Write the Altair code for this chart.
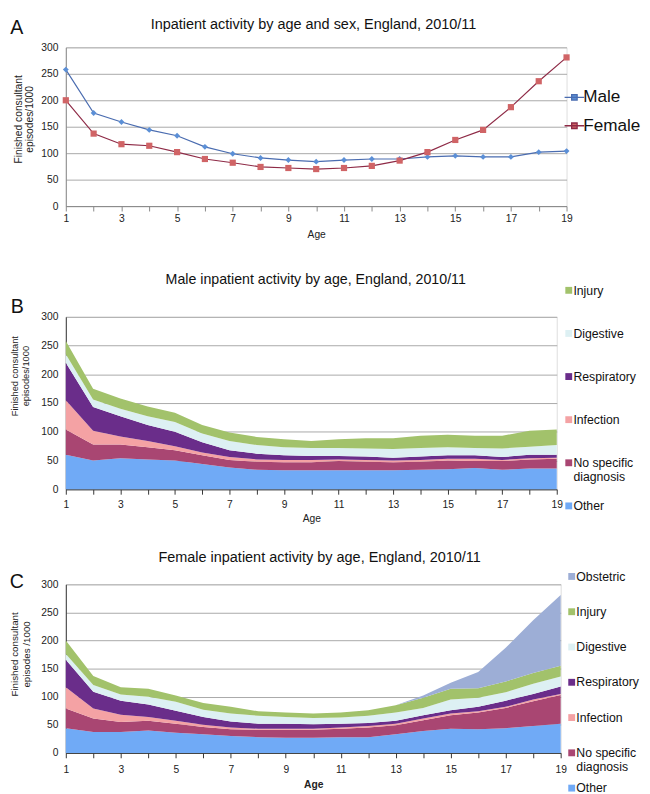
import altair as alt
import pandas as pd

FONT = "Liberation Sans"

ages = list(range(1, 20))

# Panel A: totals per 1000
male_total = [258, 176, 159, 144, 133, 112, 99, 91, 87, 84, 87, 89, 89, 93, 95, 93, 93, 102, 104]
female_total = [200, 137, 117, 114, 102, 89, 82, 74, 72, 70, 72, 76, 86, 102, 125, 144, 187, 236, 281]

# Panel B: male, by cause (stack layers, bottom to top)
m_other = [60, 50, 54, 52, 50, 44, 38, 34, 33, 33, 33, 33, 33, 34, 35, 37, 34, 36, 36]
m_nsd = [44, 28, 24, 21, 18, 15, 13, 14, 14, 14, 16, 15, 14, 14, 15, 12, 15, 16, 17]
m_infection = [51, 24, 14, 11, 7, 5, 5, 4, 4, 4, 3, 3, 3, 3, 3, 4, 2, 2, 2]
m_respiratory = [65, 41, 35, 28, 25, 18, 12, 10, 8, 7, 6, 6, 5, 6, 6, 6, 5, 6, 5]
m_digestive = [15, 13, 13, 15, 17, 15, 16, 15, 14, 14, 14, 14, 15, 15, 14, 13, 15, 14, 17]
m_injury = [23, 19, 18, 17, 16, 15, 15, 14, 14, 12, 15, 18, 19, 21, 22, 21, 22, 28, 27]

# Panel C: female, by cause
f_other = [44, 37, 37, 40, 36, 33, 30, 28, 27, 27, 28, 28, 33, 39, 43, 42, 44, 48, 52]
f_nsd = [35, 24, 18, 17, 16, 13, 12, 13, 14, 14, 15, 17, 16, 19, 24, 30, 36, 44, 51]
f_infection = [38, 18, 13, 7, 5, 4, 3, 2, 2, 2, 2, 3, 3, 3, 3, 2, 2, 3, 2]
f_respiratory = [49, 30, 25, 22, 18, 14, 11, 9, 9, 8, 7, 5, 5, 6, 6, 8, 11, 10, 13]
f_digestive = [10, 12, 11, 14, 16, 13, 14, 14, 12, 11, 11, 13, 15, 13, 19, 16, 15, 18, 18]
f_injury = [24, 16, 13, 14, 11, 12, 12, 8, 8, 8, 9, 10, 13, 18, 19, 17, 19, 19, 19]
f_obstetric = [0, 0, 0, 0, 0, 0, 0, 0, 0, 0, 0, 0, 0, 4, 11, 29, 60, 94, 126]

sexes = ["Male", "Female"]
causes_m = ["Injury", "Digestive", "Respiratory", "Infection", "No specific diagnosis", "Other"]
causes_f = ["Obstetric"] + causes_m
cause_colors = {
    "Obstetric": "#9daed6",
    "Injury": "#a2c26b",
    "Digestive": "#ddf0f3",
    "Respiratory": "#6a2d8a",
    "Infection": "#f4a2a4",
    "No specific diagnosis": "#a94672",
    "Other": "#70aaf6",
}
y_ticks = [0, 50, 100, 150, 200, 250, 300]

# ---------- data frames ----------
rows = []
for s, vals in zip(sexes, [male_total, female_total]):
    for a, v in zip(ages, vals):
        rows.append({"age": a, "sex": s, "value": v})
dfA = pd.DataFrame(rows)


def stack_df(layers):
    out = []
    for idx, (name, vals) in enumerate(layers):
        for a, v in zip(ages, vals):
            out.append({"age": a, "cause": name, "value": v, "idx": idx})
    return pd.DataFrame(out)


dfB = stack_df([
    ("Other", m_other), ("No specific diagnosis", m_nsd), ("Infection", m_infection),
    ("Respiratory", m_respiratory), ("Digestive", m_digestive), ("Injury", m_injury),
])
dfC = stack_df([
    ("Other", f_other), ("No specific diagnosis", f_nsd), ("Infection", f_infection),
    ("Respiratory", f_respiratory), ("Digestive", f_digestive), ("Injury", f_injury),
    ("Obstetric", f_obstetric),
])


def x_enc(domain_color, title_bold, label_pad, title_pad):
    return alt.X(
        "age:Q",
        scale=alt.Scale(domain=[1, 19], nice=False, zero=False),
        axis=alt.Axis(
            values=ages,
            labelExpr="datum.value % 2 == 1 ? datum.label : ''",
            grid=False, tickSize=5, tickColor=domain_color, domainColor=domain_color,
            labelFont=FONT, labelFontSize=10.5, labelColor="#222", labelPadding=label_pad,
            title="Age", titleFont=FONT, titleFontSize=10.5,
            titleFontWeight="bold" if title_bold else "normal", titleColor="#222",
            titlePadding=title_pad, labelFlush=False, labelOverlap=False,
        ),
    )


def y_enc(title_lines, domain_color, tx, ty, tsize, tlh, stack=None):
    kw = {}
    if stack is not None:
        kw["stack"] = stack
    return alt.Y(
        "value:Q",
        scale=alt.Scale(domain=[0, 300], nice=False),
        axis=alt.Axis(
            values=y_ticks, grid=True, gridColor="#a8a8a8", gridWidth=1,
            ticks=False, domainColor=domain_color,
            labelFont=FONT, labelFontSize=10.5, labelColor="#222", labelPadding=8,
            title=title_lines, titleFont=FONT, titleFontSize=tsize, titleFontWeight="normal",
            titleColor="#222", titleX=tx, titleY=ty, titleLineHeight=tlh,
        ),
        **kw,
    )


def letter(ch, dx, dy):
    return alt.Chart(pd.DataFrame({"t": [ch]})).mark_text(
        font=FONT, fontSize=20, align="center", baseline="middle", color="#111"
    ).encode(text="t:N", x=alt.value(dx), y=alt.value(dy))


def spacer(top, bottom):
    # invisible rule that fixes the vertical extent of a panel
    return alt.Chart(pd.DataFrame({"s": [0]})).mark_rule(opacity=0, strokeOpacity=0).encode(
        x=alt.value(0), y=alt.value(top), y2=alt.value(bottom)
    )


def title(text, size, dx, offset):
    return alt.TitleParams(text, font=FONT, fontSize=size, fontWeight="normal", color="#111",
                           frame="group", anchor="middle", offset=offset, dx=dx)


# ---------- Panel A ----------
HA, TA, BA = 162, 31, 35
legend_path = "M-1.25,0H1.25M-0.35,-0.35H0.35V0.35H-0.35Z"
legA = alt.Legend(orient="none", legendX=510, legendY=42, title=None,
                  labelFont=FONT, labelFontSize=17.5, labelColor="#111",
                  symbolType=legend_path, symbolSize=256, symbolStrokeWidth=1.3,
                  labelOffset=0, rowPadding=11)
xA = x_enc("#888888", False, 3, 5.5)
yA = y_enc(["Finished consultant", "episodes/1000"], "#888888", -43.5, 73, 10.5, 12)
scale_stroke = alt.Scale(domain=sexes, range=["#4a6cb0", "#8e2a46"])
scale_fill = alt.Scale(domain=sexes, range=["#5b8fd6", "#d06466"])
lineA = alt.Chart(dfA).mark_line(strokeWidth=1.2).encode(
    x=xA, y=yA, stroke=alt.Stroke("sex:N", scale=scale_stroke, legend=legA),
)
ptsMale = alt.Chart(dfA).transform_filter("datum.sex == 'Male'").mark_point(
    filled=True, opacity=1, strokeWidth=0, shape="diamond", size=36
).encode(x=xA, y=yA, fill=alt.Fill("sex:N", scale=scale_fill, legend=legA))
ptsFemale = alt.Chart(dfA).transform_filter("datum.sex == 'Female'").mark_point(
    filled=True, opacity=1, strokeWidth=0, shape="square", size=40
).encode(x=xA, y=yA, fill=alt.Fill("sex:N", scale=scale_fill, legend=legA))
chartA = alt.layer(lineA, ptsMale, ptsFemale, letter("A", -50, -20), spacer(-TA, HA + BA)).properties(
    width=511, height=HA,
    title=title("Inpatient activity by age and sex, England, 2010/11", 14.75, -2.8, -15.5),
)

# ---------- Panels B and C ----------
lab_expr = ("datum.label == 'No specific diagnosis' ? ['No specific', 'diagnosis'] : "
            "datum.label == 'Other' ? datum.label : [datum.label, ' ']")
# square symbol, lifted so that it sits beside the first text line
sq_path = "M-0.333,-1.3H0.833V-0.133H-0.333Z"


def area_panel(df, causes, legx, legy, rowpad, ytitle, tx, ty, tsize, tlh, bold, lab_pad_x, title_pad_x):
    leg = alt.Legend(orient="none", legendX=legx, legendY=legy, title=None,
                     labelFont=FONT, labelFontSize=12.5, labelColor="#111",
                     labelBaseline="alphabetic",
                     symbolType=sq_path, symbolSize=144, symbolStrokeWidth=0,
                     labelOffset=0, rowPadding=rowpad, labelExpr=lab_expr, labelLimit=200)
    return alt.Chart(df).mark_area(interpolate="linear").encode(
        x=x_enc("#333333", bold, lab_pad_x, title_pad_x),
        y=y_enc(ytitle, "#333333", tx, ty, tsize, tlh, stack="zero"),
        color=alt.Color("cause:N", scale=alt.Scale(domain=causes, range=[cause_colors[c] for c in causes]), legend=leg),
        order=alt.Order("idx:Q", sort="ascending"),
    )


HB, TB, BB = 176, 76, 35
areaB = area_panel(dfB, causes_m, 505.5, -29, 16, ["Finished consultant", "episodes/1000"],
                   -47.5, 60, 9.5, 11.5, False, 5.5, 4)
chartB = alt.layer(areaB, letter("B", -49.5, -10), spacer(-TB, HB + BB)).properties(
    width=501, height=HB,
    title=title("Male inpatient activity by age, England, 2010/11", 14.5, 4.5, -46.5),
)

HC, TC, BC = 172, 60.3, 36
areaC = area_panel(dfC, causes_f, 508.5, -10, 8, ["Finished consultant", "episodes /1000"],
                   -47, 71, 10, 12, True, 7, 4.5)
chartC = alt.layer(areaC, letter("C", -50, -2), spacer(-TC, HC + BC)).properties(
    width=505, height=HC,
    title=title("Female inpatient activity by age, England, 2010/11", 14.75, 6.5, -39.8),
)

chart = alt.vconcat(chartA, chartB, chartC, spacing=0).resolve_scale(
    color="independent", fill="independent", stroke="independent"
).resolve_legend(color="independent").properties(padding=0).configure_view(stroke=None).configure(
    background="white"
)

chart.save("out.html", embed_options={"renderer": "svg", "actions": False})
